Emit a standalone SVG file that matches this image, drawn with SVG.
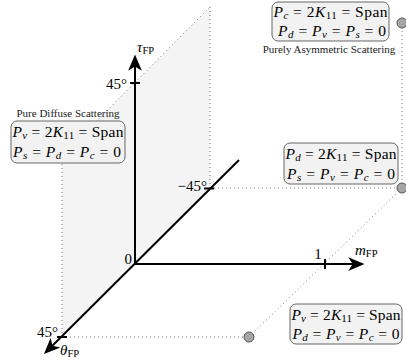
<svg xmlns="http://www.w3.org/2000/svg" width="406" height="362" viewBox="0 0 406 362" font-family="'Liberation Serif','DejaVu Serif','Times New Roman',serif">
<defs>
<style>
text{font-family:"Liberation Serif","DejaVu Serif","Times New Roman",serif;fill:#000}
.m{font-size:15.5px}
.i{font-style:italic}
.s{font-size:11px}
.lbl{font-size:15px}
.sm{font-size:10.5px}
.cap{font-size:11px;fill:#222}
.dot{fill:none;stroke:#777;stroke-width:1;stroke-dasharray:1 3}
.ax{fill:none;stroke:#000;stroke-width:2}
.tick{stroke:#000;stroke-width:2}
.box{fill:#f2f2f2;stroke:#666;stroke-width:1}
.pt{fill:#a6a6a6;stroke:#555;stroke-width:1}
</style>
<marker id="arr" markerUnits="userSpaceOnUse" markerWidth="20" markerHeight="20" refX="0" refY="0" viewBox="-8 -7 16 14" orient="auto" overflow="visible">
<path d="M6,0 L-7,-5.5 L-3.5,0 L-7,5.5 Z" fill="#000"/>
</marker>
</defs>

<g id="plane">
<polygon points="62,337 62,156 210,7 210,188" fill="#f4f4f4"/>
</g>

<g id="connectors">
<line class="dot" x1="62" y1="337" x2="62" y2="156"/>
<line class="dot" x1="62" y1="156" x2="210" y2="7"/>
<line class="dot" x1="210" y1="7" x2="210" y2="188"/>
<line class="dot" x1="210" y1="188" x2="402" y2="188"/>
<line class="dot" x1="62" y1="337" x2="249" y2="337"/>
<line class="dot" x1="249" y1="337" x2="402" y2="188"/>
<line class="dot" x1="402" y1="23" x2="402" y2="188"/>
</g>

<g id="axes">
<line class="ax" x1="135" y1="264" x2="135" y2="62" marker-end="url(#arr)"/>
<line class="ax" x1="135" y1="264" x2="357" y2="264" marker-end="url(#arr)"/>
<line class="ax" x1="239" y1="160" x2="49.3" y2="348.8" marker-end="url(#arr)"/>
<line class="tick" x1="130" y1="83" x2="140" y2="83"/>
<line class="tick" x1="325" y1="259" x2="325" y2="269"/>
<line class="tick" x1="204" y1="188.5" x2="214" y2="188.5"/>
<line class="tick" x1="57" y1="337" x2="67" y2="337"/>
</g>

<g id="axis-labels">
<text class="lbl" x="137" y="52"><tspan class="i">τ</tspan><tspan class="sm" dy="2">FP</tspan></text>
<text class="lbl" x="355" y="255"><tspan class="i">m</tspan><tspan class="sm" dy="2">FP</tspan></text>
<text class="lbl" x="60" y="355"><tspan class="i">θ</tspan><tspan class="sm" dy="2">FP</tspan></text>
<text class="lbl" x="127" y="89" text-anchor="end">45°</text>
<text class="lbl" x="207" y="191" text-anchor="end">−45°</text>
<text class="lbl" x="58" y="337" text-anchor="end">45°</text>
<text class="lbl" x="132" y="264" text-anchor="end">0</text>
<text class="lbl" x="318" y="259" text-anchor="middle">1</text>
</g>

<g id="node-diffuse">
<text class="cap" x="68" y="117" text-anchor="middle">Pure Diffuse Scattering</text>
<rect class="box" x="11" y="121" width="114" height="42" rx="6"/>
<text class="m" x="68" y="137" text-anchor="middle" textLength="111"><tspan class="i">P</tspan><tspan class="s i" dy="2">v</tspan><tspan dy="-2"> = 2</tspan><tspan class="i">K</tspan><tspan class="s" dy="2">11</tspan><tspan dy="-2"> = Span</tspan></text>
<text class="m" x="67" y="157" text-anchor="middle" textLength="108"><tspan class="i">P</tspan><tspan class="s i" dy="2">s</tspan><tspan dy="-2"> = </tspan><tspan class="i">P</tspan><tspan class="s i" dy="2">d</tspan><tspan dy="-2"> = </tspan><tspan class="i">P</tspan><tspan class="s i" dy="2">c</tspan><tspan dy="-2"> = 0</tspan></text>
</g>

<g id="node-asym">
<rect class="box" x="272" y="2" width="117" height="39" rx="6"/>
<text class="m" x="330.5" y="17" text-anchor="middle" textLength="114"><tspan class="i">P</tspan><tspan class="s i" dy="2">c</tspan><tspan dy="-2"> = 2</tspan><tspan class="i">K</tspan><tspan class="s" dy="2">11</tspan><tspan dy="-2"> = Span</tspan></text>
<text class="m" x="332" y="36" text-anchor="middle" textLength="108"><tspan class="i">P</tspan><tspan class="s i" dy="2">d</tspan><tspan dy="-2"> = </tspan><tspan class="i">P</tspan><tspan class="s i" dy="2">v</tspan><tspan dy="-2"> = </tspan><tspan class="i">P</tspan><tspan class="s i" dy="2">s</tspan><tspan dy="-2"> = 0</tspan></text>
<text class="cap" x="329" y="53" text-anchor="middle">Purely Asymmetric Scattering</text>
<circle class="pt" cx="402" cy="23" r="5"/>
</g>

<g id="node-double">
<rect class="box" x="284" y="143" width="114" height="41" rx="6"/>
<text class="m" x="341" y="159" text-anchor="middle" textLength="111"><tspan class="i">P</tspan><tspan class="s i" dy="2">d</tspan><tspan dy="-2"> = 2</tspan><tspan class="i">K</tspan><tspan class="s" dy="2">11</tspan><tspan dy="-2"> = Span</tspan></text>
<text class="m" x="341" y="179" text-anchor="middle" textLength="108"><tspan class="i">P</tspan><tspan class="s i" dy="2">s</tspan><tspan dy="-2"> = </tspan><tspan class="i">P</tspan><tspan class="s i" dy="2">v</tspan><tspan dy="-2"> = </tspan><tspan class="i">P</tspan><tspan class="s i" dy="2">c</tspan><tspan dy="-2"> = 0</tspan></text>
<circle class="pt" cx="402" cy="188" r="5"/>
</g>

<g id="node-volume">
<rect class="box" x="290" y="304" width="112" height="40" rx="6"/>
<text class="m" x="346" y="320" text-anchor="middle" textLength="109"><tspan class="i">P</tspan><tspan class="s i" dy="2">v</tspan><tspan dy="-2"> = 2</tspan><tspan class="i">K</tspan><tspan class="s" dy="2">11</tspan><tspan dy="-2"> = Span</tspan></text>
<text class="m" x="346" y="339" text-anchor="middle" textLength="107"><tspan class="i">P</tspan><tspan class="s i" dy="2">d</tspan><tspan dy="-2"> = </tspan><tspan class="i">P</tspan><tspan class="s i" dy="2">v</tspan><tspan dy="-2"> = </tspan><tspan class="i">P</tspan><tspan class="s i" dy="2">c</tspan><tspan dy="-2"> = 0</tspan></text>
<circle class="pt" cx="249" cy="337" r="5"/>
</g>
</svg>
